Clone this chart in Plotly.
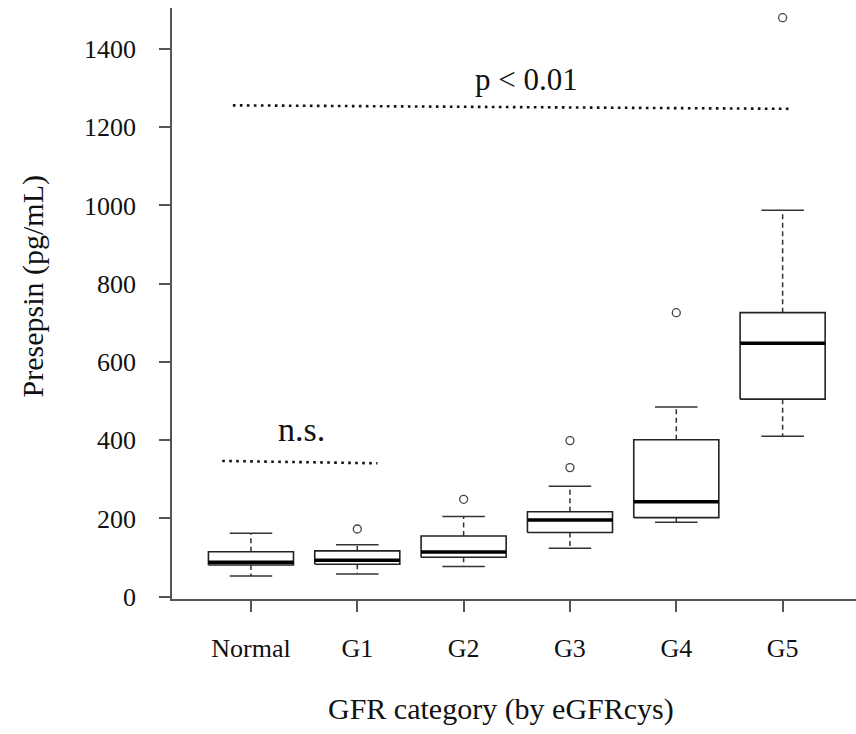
import plotly.graph_objects as go

# ---- data ----
categories = ["Normal", "G1", "G2", "G3", "G4", "G5"]
q1 = [81, 83, 101, 164, 202, 505]
median = [88, 93, 114, 196, 243, 648]
q3 = [115, 117, 155, 217, 401, 726]
lower_whisker = [53, 58, 77, 124, 190, 410]
upper_whisker = [162, 133, 205, 282, 485, 988]
outlier_group = ["G1", "G2", "G3", "G3", "G4", "G5"]
outlier_value = [173, 249, 330, 399, 726, 1480]
y_ticks = [0, 200, 400, 600, 800, 1000, 1200, 1400]

ns_x = [0.73, 2.19]
ns_y = [347, 341]
ns_label = "n.s."
p_x = [0.83, 6.09]
p_y = [1256, 1247]
p_label = "p < 0.01"

x_title = "GFR category (by eGFRcys)"
y_title = "Presepsin (pg/mL)"

# ---- styling ----
FONT = "Liberation Serif, Times New Roman, serif"
LINE = "#222222"
AXIS = "#555555"
HW = 0.4    # half box width (category units)
CW = 0.2    # half staple width

pos = list(range(1, len(categories) + 1))
cat_pos = {c: p for c, p in zip(categories, pos)}

fig = go.Figure()

# whiskers (dashed)
wx, wy = [], []
for p, a, b, lo, hi in zip(pos, q1, q3, lower_whisker, upper_whisker):
    wx += [p, p, None, p, p, None]
    wy += [b, hi, None, a, lo, None]
fig.add_trace(go.Scatter(x=wx, y=wy, mode="lines", hoverinfo="skip",
                         line=dict(color="#333333", width=1.5, dash="5px,3.5px"),
                         showlegend=False))
# staples
sx, sy = [], []
for p, lo, hi in zip(pos, lower_whisker, upper_whisker):
    sx += [p - CW, p + CW, None, p - CW, p + CW, None]
    sy += [hi, hi, None, lo, lo, None]
fig.add_trace(go.Scatter(x=sx, y=sy, mode="lines", hoverinfo="skip",
                         line=dict(color="#333333", width=1.5), showlegend=False))
# boxes
for p, a, b in zip(pos, q1, q3):
    fig.add_trace(go.Scatter(x=[p - HW, p + HW, p + HW, p - HW, p - HW],
                             y=[a, a, b, b, a], mode="lines", fill="toself",
                             fillcolor="white", hoverinfo="skip",
                             line=dict(color=LINE, width=1.6), showlegend=False))
# medians
mx, my = [], []
for p, m in zip(pos, median):
    mx += [p - HW, p + HW, None]
    my += [m, m, None]
fig.add_trace(go.Scatter(x=mx, y=my, mode="lines", hoverinfo="skip",
                         line=dict(color="#000000", width=3.5), showlegend=False))
# outliers
fig.add_trace(go.Scatter(x=[cat_pos[g] for g in outlier_group], y=outlier_value,
                         mode="markers", hoverinfo="skip",
                         marker=dict(symbol="circle-open", size=8, color="#444444",
                                     line=dict(width=1.3, color="#444444")),
                         showlegend=False))

# significance lines
fig.add_trace(go.Scatter(x=ns_x, y=ns_y, mode="lines", hoverinfo="skip",
                         line=dict(color="#111111", width=2.6, dash="2.6px,4.4px"),
                         showlegend=False))
fig.add_trace(go.Scatter(x=p_x, y=p_y, mode="lines", hoverinfo="skip",
                         line=dict(color="#111111", width=2.6, dash="2.6px,4.4px"),
                         showlegend=False))

fig.add_annotation(x=1.471, y=374, xref="x", yref="y", text=ns_label,
                   showarrow=False, yanchor="bottom", xanchor="center",
                   font=dict(family=FONT, size=34, color="#111111"))
fig.add_annotation(x=3.588, y=1272, xref="x", yref="y", text=p_label,
                   showarrow=False, yanchor="bottom", xanchor="center",
                   font=dict(family=FONT, size=31, color="#111111"))

# axis titles
fig.add_annotation(x=0.481, y=-0.186, xref="paper", yref="paper", text=x_title,
                   showarrow=False, xanchor="center", yanchor="middle",
                   font=dict(family=FONT, size=30, color="#111111"))
fig.add_annotation(x=-0.203, y=0.529, xref="paper", yref="paper", text=y_title,
                   textangle=-90, showarrow=False, xanchor="center", yanchor="middle",
                   font=dict(family=FONT, size=30, color="#111111"))

fig.update_layout(
    width=856, height=734,
    margin=dict(l=172, r=0, t=8, b=135),
    paper_bgcolor="white", plot_bgcolor="white",
    font=dict(family=FONT, size=26, color="#111111"),
    xaxis=dict(range=[0.2575, 6.69], tickvals=pos, ticktext=categories,
               showgrid=False, zeroline=False, showline=True, linecolor=AXIS,
               linewidth=1.5, ticks="outside", ticklen=11, tickwidth=1.5,
               tickcolor=AXIS, ticklabelstandoff=14,
               tickfont=dict(family=FONT, size=26, color="#111111")),
    yaxis=dict(range=[-5.9, 1504.8], tickvals=y_ticks,
               showgrid=False, zeroline=False, showline=True, linecolor=AXIS,
               linewidth=1.5, ticks="outside", ticklen=11, tickwidth=1.5,
               tickcolor=AXIS, ticklabelstandoff=18,
               tickfont=dict(family=FONT, size=26, color="#111111")),
)

fig.write_html("out.html")
